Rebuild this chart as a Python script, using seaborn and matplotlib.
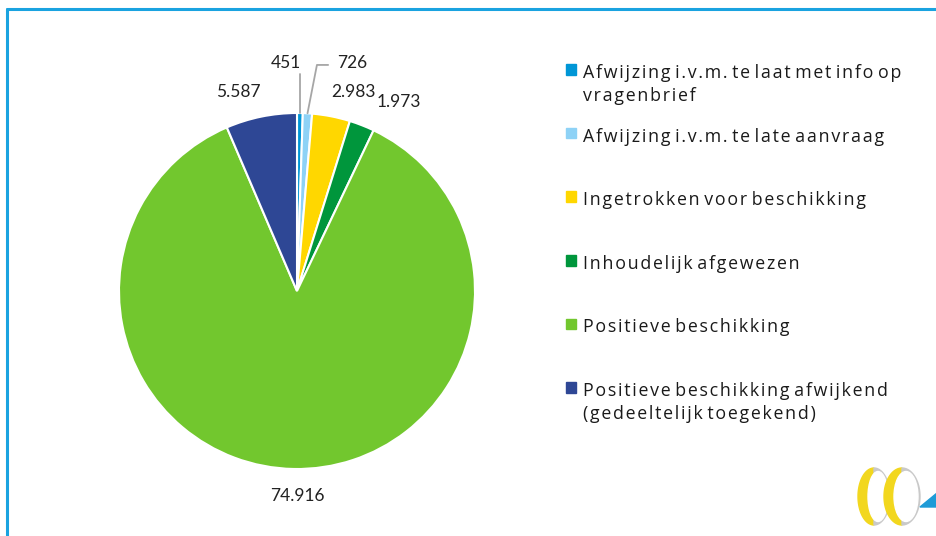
import matplotlib
matplotlib.use("Agg")
import matplotlib.pyplot as plt
import seaborn as sns
import numpy as np
from matplotlib.patches import Rectangle, Ellipse, Polygon
from matplotlib.lines import Line2D

# dati del grafico
categorie = [
    "Afwijzing i.v.m. te laat met info op\nvragenbrief",
    "Afwijzing i.v.m. te late aanvraag",
    "Ingetrokken voor beschikking",
    "Inhoudelijk afgewezen",
    "Positieve beschikking",
    "Positieve beschikking afwijkend\n(gedeeltelijk toegekend)",
]
aantallen = [451, 726, 2983, 1973, 74916, 5587]
colori = ["#0096D6", "#8ED2F6", "#FFD700", "#00963C", "#72C72E", "#2E4795"]

# posizione delle etichette (unità del raggio)
pos_etichette = [(-0.06, 1.28), (0.31, 1.28), (0.32, 1.12), (0.575, 1.06), (0.0, -1.15), (-0.33, 1.12)]

sns.set_style("white")
plt.rcParams['font.family'] = ['Lato', 'DejaVu Sans']

W, H = 937, 536
fig = plt.figure(figsize=(W / 100, H / 100), dpi=100)

# torta: centro (297, 291) px, raggio 178 px
r_px = 178
lato = 2.5 * r_px
ax = fig.add_axes([(297 - lato / 2) / W, (H - 291 - lato / 2) / H, lato / W, lato / H])
wedges, _ = ax.pie(aantallen, colors=colori, startangle=90, counterclock=False,
                   wedgeprops=dict(edgecolor='white', linewidth=1.5))

for i, (v, (x, y)) in enumerate(zip(aantallen, pos_etichette)):
    testo = f"{v:,}".replace(",", ".")
    ax.text(x, y, testo, ha='center', va='center', fontsize=12.5, color='#222222')

# linee guida per le fette piccole
for i in [0, 1]:
    w = wedges[i]
    mid = np.deg2rad((w.theta1 + w.theta2) / 2)
    x0, y0 = np.cos(mid), np.sin(mid)
    lx, ly = pos_etichette[i]
    if i == 0:
        ax.plot([x0, x0], [y0, ly - 0.06], color='#A6A6A6', lw=1.3, clip_on=False)
    else:
        ax.plot([x0, 0.112, lx - 0.135], [y0, ly - 0.01, ly - 0.01], color='#A6A6A6', lw=1.3, clip_on=False)


def spaziato(riga):
    # spaziatura tra le lettere (solo dentro le parole)
    return " ".join("\u200a".join(parola) for parola in riga.split(" "))


# legenda manuale (una riga alla volta)
y0_leg, passo, interlinea = 69.5, 63.6, 23
for i, (lab, c) in enumerate(zip(categorie, colori)):
    yc = y0_leg + i * passo
    fig.patches.append(Rectangle((566 / W, 1 - (yc + 5.25) / H), 10.5 / W, 10.5 / H,
                                 transform=fig.transFigure, color=c))
    for k, riga in enumerate(lab.split("\n")):
        fig.text(583 / W, 1 - (yc + 8.5 + k * interlinea) / H, spaziato(riga),
                 va='baseline', ha='left', fontsize=12.8, color='#1a1a1a',
                 family=['Open Sans', 'DejaVu Sans'])

# cornice azzurra
bordo = '#1AA3E0'
fig.add_artist(Line2D([7 / W, 7 / W], [0, 1 - 9 / H], color=bordo, lw=2.2, transform=fig.transFigure))
fig.add_artist(Line2D([7 / W, 1], [1 - 9 / H, 1 - 9 / H], color=bordo, lw=2.2, transform=fig.transFigure))

# logo in basso a destra (approssimato), coordinate in pixel
lax = fig.add_axes([850 / W, 0, 87 / W, 76 / H])
lax.set_xlim(850, 937)
lax.set_ylim(536, 460)
lax.axis('off')


def mezza_ellisse(cx, cy, a, b, t0, t1):
    t = np.deg2rad(np.linspace(t0, t1, 60))
    return np.column_stack([cx + a * np.cos(t), cy + b * np.sin(t)])


for cx, a in [(874, 16), (902, 18)]:
    lax.add_patch(Polygon(mezza_ellisse(cx, 496.5, a, 28.5, 90, 270), color='#F2D71E'))
    lax.add_patch(Polygon(mezza_ellisse(cx, 496.5, a, 28.5, -90, 90), color='#C9C9C9'))
    lax.add_patch(Ellipse((cx + 4, 496.5), 2 * (a - 6), 50, color='white'))
lax.add_patch(Polygon([(920, 507), (937, 493), (937, 507)], color='#1E9BD7'))

fig.savefig("out.png", dpi=100)
